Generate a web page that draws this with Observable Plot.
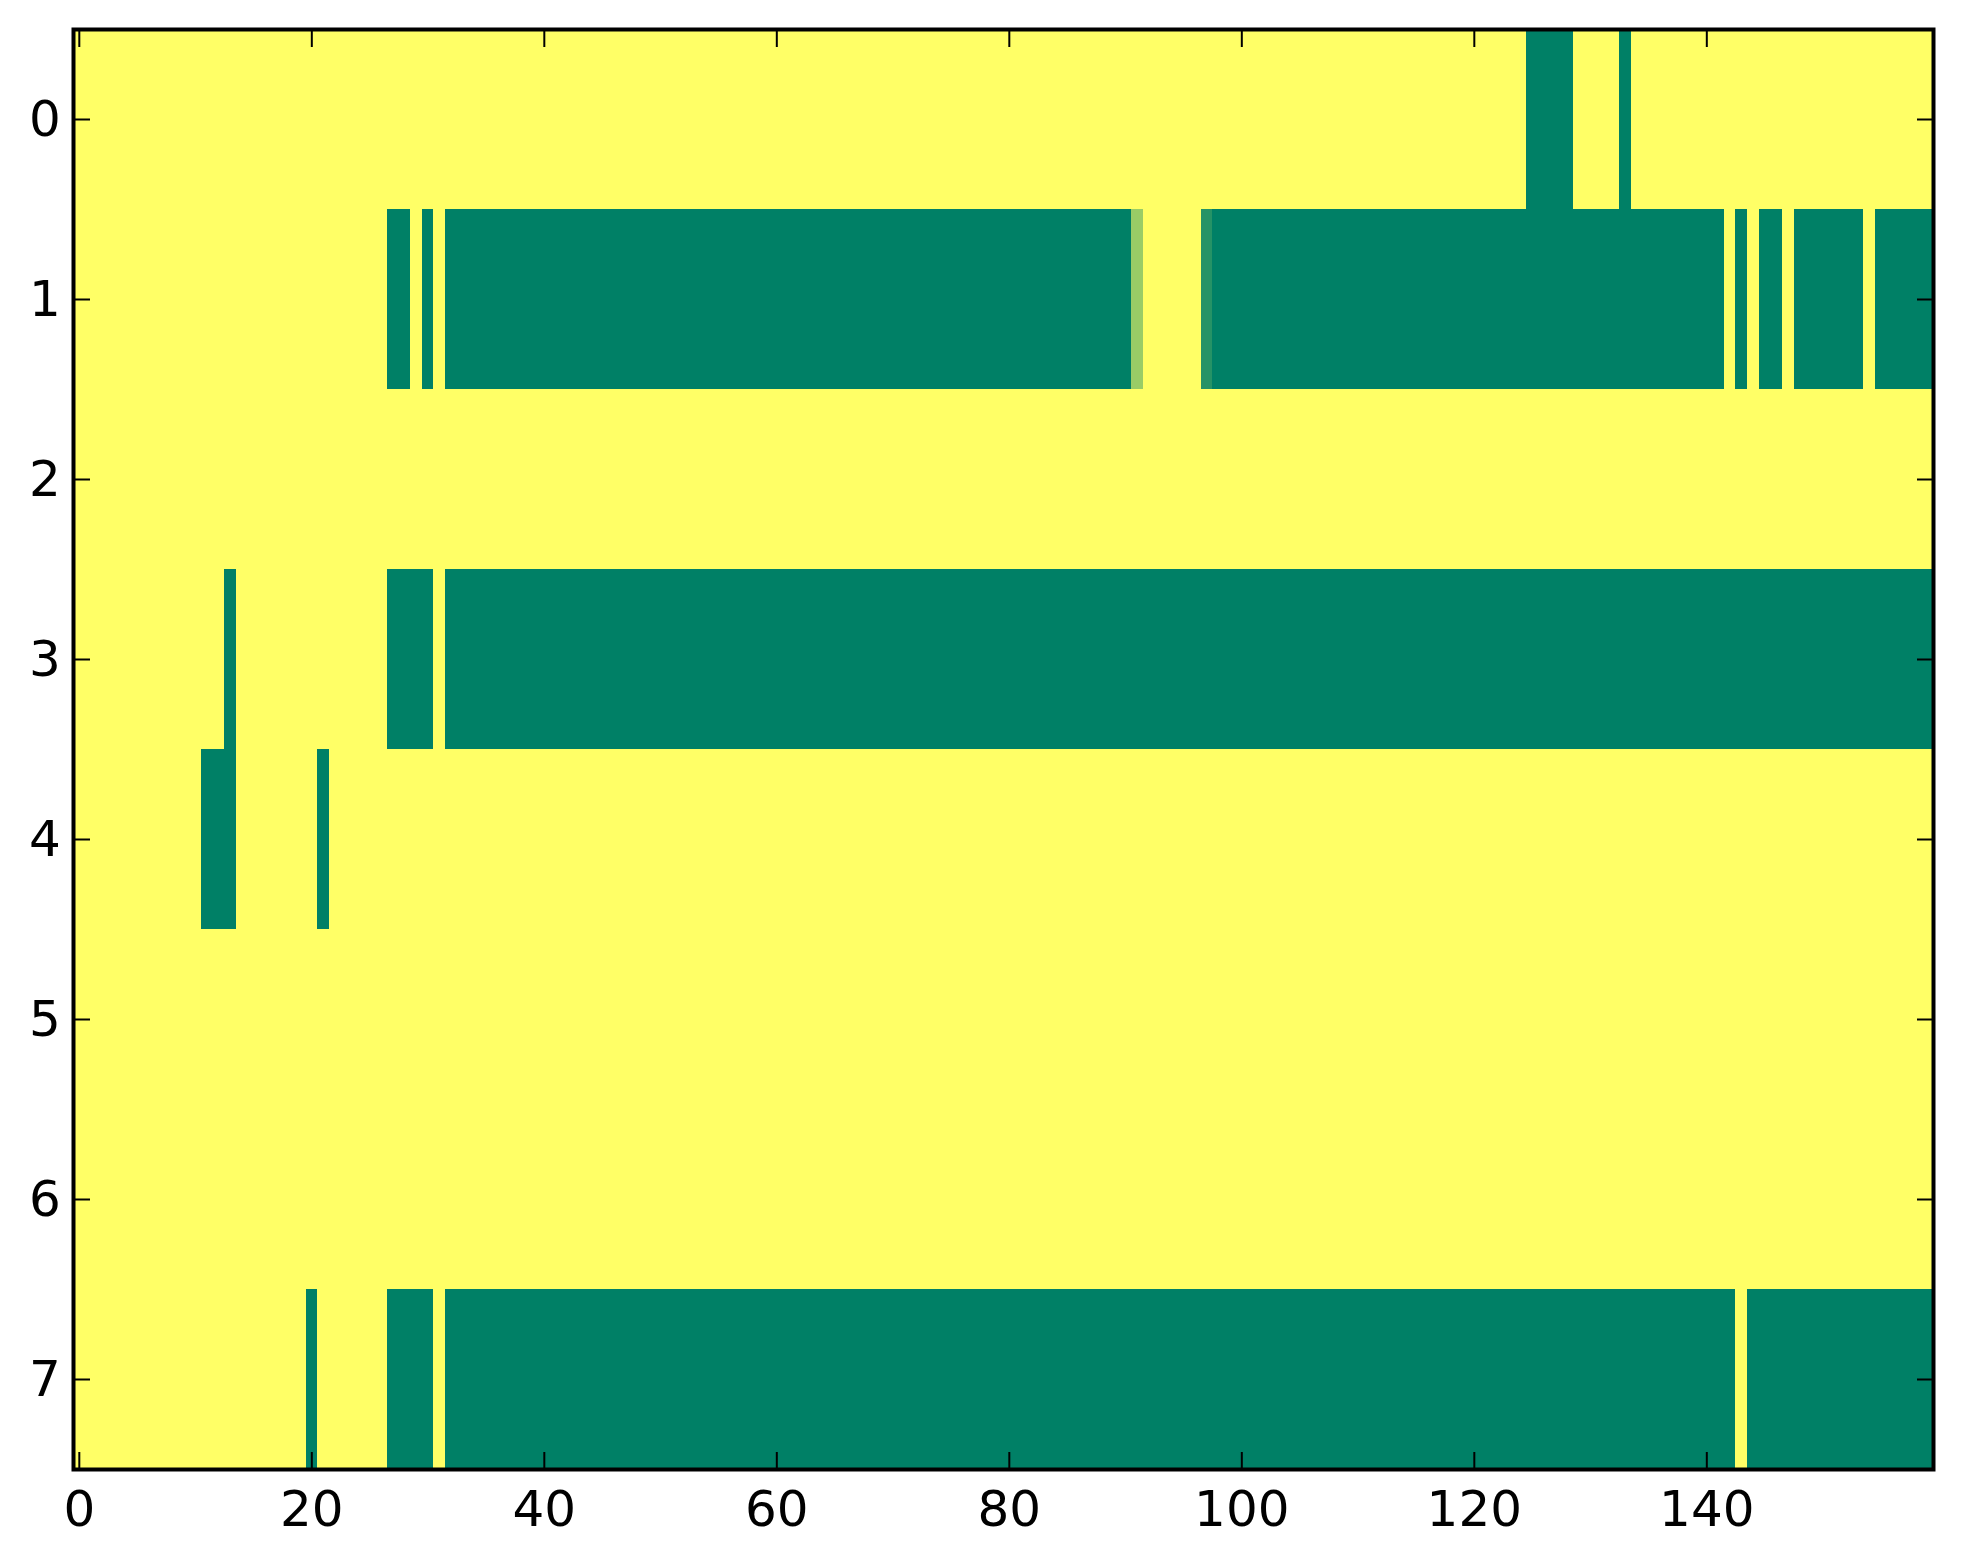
<!DOCTYPE html>
<html>
<head>
<meta charset="utf-8">
<script src="https://cdn.jsdelivr.net/npm/d3@7"></script>
<script src="https://cdn.jsdelivr.net/npm/@observablehq/plot@0.6"></script>
<style>
  html, body { margin: 0; padding: 0; background: #ffffff; }
  #chart svg { display: block; }
</style>
</head>
<body>
<div id="chart"></div>
<script>
// ---- data ----
const nCols = 160;
const rowIds = [0, 1, 2, 3, 4, 5, 6, 7];
const xTicks = [0, 20, 40, 60, 80, 100, 120, 140];
const yTicks = [0, 1, 2, 3, 4, 5, 6, 7];
const highValue = 1;   // yellow cells
const lowValue = 0;    // green cells

// runs of low (green) cells per row: [firstCol, lastCol]
const row0Low = [[125, 128], [133, 133]];
const row1Low = [[27, 28], [30, 30], [32, 90], [98, 141], [143, 143], [145, 146], [148, 153], [155, 159]];
const row2Low = [];
const row3Low = [[13, 13], [27, 30], [32, 159]];
const row4Low = [[11, 13], [21, 21]];
const row5Low = [];
const row6Low = [];
const row7Low = [[20, 20], [27, 30], [32, 142], [144, 159]];
// cells with intermediate values: [row, col, value]
const partialCells = [[1, 91, 0.6], [1, 97, 0.15]];

const lowRuns = [row0Low, row1Low, row2Low, row3Low, row4Low, row5Low, row6Low, row7Low];

const cells = [];
for (const r of rowIds) {
  for (let c = 0; c < nCols; c++) {
    let v = highValue;
    if (lowRuns[r].some(([a, b]) => c >= a && c <= b)) v = lowValue;
    const p = partialCells.find(([pr, pc]) => pr === r && pc === c);
    if (p) v = p[2];
    cells.push({row: r, col: c, value: v});
  }
}

const chart = Plot.plot({
  width: 1963,
  height: 1564,
  marginLeft: 73,
  marginRight: 30,
  marginTop: 29,
  marginBottom: 95,
  style: {fontFamily: "'DejaVu Sans', sans-serif", fontSize: "50px", color: "black", background: "white"},
  x: {domain: [-0.5, nCols - 0.5]},
  y: {domain: [-0.5, rowIds.length - 0.5], reverse: true},
  color: {type: "linear", domain: [0, 1], range: ["#008066", "#ffff66"], interpolate: "rgb"},
  marks: [
    Plot.rect(cells, {
      x1: d => d.col - 0.5, x2: d => d.col + 0.5,
      y1: d => d.row - 0.5, y2: d => d.row + 0.5,
      fill: "value", shapeRendering: "crispEdges"
    }),
    Plot.frame({stroke: "black", strokeWidth: 4}),
    Plot.axisX({ticks: xTicks, tickSize: -17, tickPadding: 37.5, strokeWidth: 2, fontSize: 50, label: null}),
    Plot.axisX({anchor: "top", ticks: xTicks, tickSize: -17, strokeWidth: 2, tickFormat: () => "", label: null}),
    Plot.axisY({ticks: yTicks, tickSize: -17, tickPadding: 29.7, strokeWidth: 2, fontSize: 50, label: null}),
    Plot.axisY({anchor: "right", ticks: yTicks, tickSize: -17, strokeWidth: 2, tickFormat: () => "", label: null})
  ]
});
document.getElementById("chart").appendChild(chart);
</script>
</body>
</html>
